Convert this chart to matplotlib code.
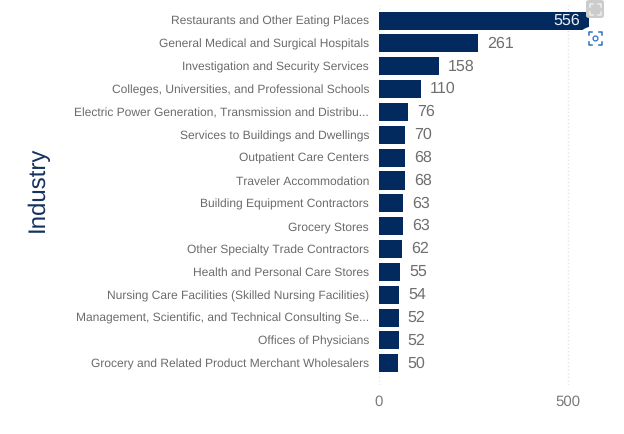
import matplotlib
matplotlib.use('Agg')
import matplotlib.pyplot as plt
from matplotlib.lines import Line2D
from matplotlib.patches import FancyBboxPatch, Circle

plt.rcParams['font.family'] = ['Liberation Sans', 'DejaVu Sans']
plt.rcParams['text.hinting'] = 'no_hinting'
plt.rcParams['text.hinting_factor'] = 1

industries = [
    'Restaurants and Other Eating Places',
    'General Medical and Surgical Hospitals',
    'Investigation and Security Services',
    'Colleges, Universities, and Professional Schools',
    'Electric Power Generation, Transmission and Distribu...',
    'Services to Buildings and Dwellings',
    'Outpatient Care Centers',
    'Traveler Accommodation',
    'Building Equipment Contractors',
    'Grocery Stores',
    'Other Specialty Trade Contractors',
    'Health and Personal Care Stores',
    'Nursing Care Facilities (Skilled Nursing Facilities)',
    'Management, Scientific, and Technical Consulting Se...',
    'Offices of Physicians',
    'Grocery and Related Product Merchant Wholesalers',
]
counts = [556, 261, 158, 110, 76, 70, 68, 68, 63, 63, 62, 55, 54, 52, 52, 50]
x_ticks = [0, 500]

W, H = 624, 434


def corners(cx, cy, r, arm, color, lw):
    # four corner brackets of a viewer button, in pixels from the top left
    for sx in (-1, 1):
        for sy in (-1, 1):
            xs = [cx + sx * (r - arm), cx + sx * r, cx + sx * r]
            ys = [cy + sy * r, cy + sy * r, cy + sy * (r - arm)]
            fig.add_artist(Line2D([x / W for x in xs], [1 - y / H for y in ys], color=color, lw=lw, zorder=6))


fig = plt.figure(figsize=(W / 100, H / 100), dpi=100)
ax = fig.add_axes([379 / W, 1 - 385 / H, (622 - 379) / W, 380 / H])

ax.barh(range(len(counts)), counts, height=0.79, color='#022a5e', zorder=2)
ax.set_xlim(0, 243 / 189 * 500)
ax.set_ylim(15.95, -0.68)

ax.set_yticks(range(len(industries)))
ax.set_yticklabels(industries, fontsize=8.6, color='#6b6b6b')
ax.set_xticks(x_ticks)
ax.set_xticklabels([str(t) for t in x_ticks], fontsize=11, color='#7a7a7a')
ax.tick_params(axis='y', length=0, pad=7.2)
ax.tick_params(axis='x', length=0, pad=7)
ax.grid(axis='x', color='#e6e6e6', linestyle=':', linewidth=1, zorder=0)
for s in ax.spines.values():
    s.set_visible(False)

# labels sit outside the bar except for the longest one
for i, c in enumerate(counts):
    if c > 500:
        ax.text(c - 23, i, str(c), color='#e8ecf2', fontsize=11.5, ha='right', va='center', zorder=3)
    else:
        ax.text(c + 24, i, str(c), color='#6f6f6f', fontsize=11.5, ha='left', va='center', zorder=3)

fig.text(38 / W, 1 - 189 / H, 'Industry', rotation=90, fontsize=17, color='#14315f', ha='center', va='center')

# viewer buttons over the top right corner
fig.add_artist(FancyBboxPatch((586 / W, 1 - 18 / H), 18 / W, 18 / H, boxstyle='round,pad=0,rounding_size=0.005',
                              transform=fig.transFigure, fc='#cccccc', ec='none', zorder=5))
corners(595, 9, 5.5, 3, '#eeeeee', 1.1)
fig.add_artist(Circle((595 / W, 1 - 38 / H), 17 / W, transform=fig.transFigure, fc='white', ec='none', zorder=5))
corners(595, 38, 6.5, 3, '#2f6fc4', 1.1)
fig.add_artist(Line2D([595 / W], [1 - 38 / H], marker='o', ms=3.5, mfc='white', mec='#2f6fc4', mew=0.9, zorder=6))

fig.savefig('out.png', dpi=100)
